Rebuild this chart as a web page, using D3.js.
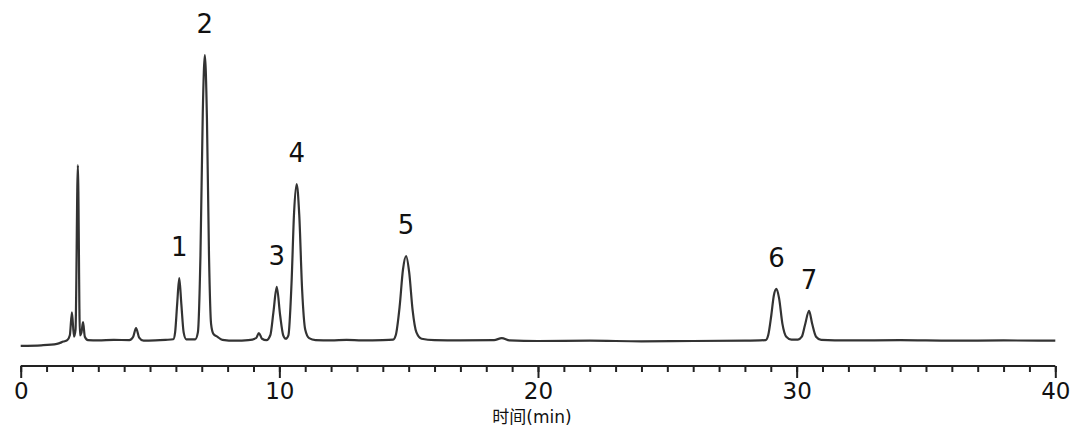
<!DOCTYPE html>
<html>
<head>
<meta charset="utf-8">
<script src="https://cdn.jsdelivr.net/npm/d3@7"></script>
<style>
  body { margin: 0; background: #fff; }
  svg text { font-family: "DejaVu Sans", sans-serif; fill: #111; }
</style>
</head>
<body>
<div id="chart"></div>
<script>
// chromatogram trace: [time (min), signal]
var trace = [
  [0, -1.7], [0.8, -1.5], [1.4, -1.0], [1.65, -0.2], [1.8, 0.3],
  [1.9, 2], [1.98, 10], [2.06, 1.5], [2.12, 4], [2.21, 61.5], [2.29, 2], [2.35, 3], [2.41, 6.6], [2.48, 1.5], [2.6, 0.3],
  [3.0, 0.2], [3.6, 0.4], [4.2, 0.3], [4.35, 1.5], [4.46, 4.5], [4.58, 1.2], [4.75, 0.1], [5.2, 0.2], [5.6, 0.4], [5.9, 0.6],
  [5.97, 3], [6.05, 13], [6.13, 22], [6.21, 13], [6.3, 3], [6.4, 0.6],
  [6.75, 0.6], [6.85, 3], [6.95, 30], [7.04, 80], [7.12, 100], [7.2, 78], [7.28, 30], [7.36, 6], [7.45, 2.5], [7.6, 1.5], [7.8, 0.4], [8.3, 0.1], [8.8, 0.3],
  [9.1, 1], [9.21, 2.8], [9.33, 0.8], [9.5, 0.3], [9.65, 2], [9.77, 10], [9.9, 18.9], [10.03, 9], [10.15, 2], [10.25, 0.8],
  [10.35, 2], [10.47, 20], [10.57, 45], [10.67, 54.9], [10.77, 44], [10.88, 18], [11.0, 4], [11.15, 1], [11.4, 0.3], [12, 0.2], [12.6, 0.4], [13.2, 0.2], [14.0, 0.3], [14.4, 0.5],
  [14.5, 2], [14.65, 12], [14.78, 25], [14.9, 29.7], [15.02, 24], [15.15, 11], [15.3, 3], [15.5, 0.8], [16, 0.3], [17, 0.2], [18.3, 0.3], [18.6, 1], [18.9, 0.2],
  [20, 0], [22, 0.1], [24, -0.1], [26, 0], [28, 0.1], [28.8, 0.3],
  [28.9, 2], [29.02, 9], [29.12, 16], [29.22, 18.2], [29.32, 15], [29.45, 6], [29.6, 1.5], [29.8, 0.5], [30.05, 0.5],
  [30.2, 1.5], [30.32, 5.5], [30.48, 10.5], [30.6, 6], [30.75, 1.5], [30.95, 0.4], [32, 0.2], [34, 0.3], [36, 0.1], [38, 0.2], [40, 0.1]
];

// numbered peaks
var peakNames = ["1", "2", "3", "4", "5", "6", "7"];
var peakTimes = [6.13, 7.12, 9.9, 10.67, 14.9, 29.22, 30.48];
var peakHeights = [22, 100, 18.9, 54.9, 29.7, 18.2, 10.5];

var majorTicks = [0, 10, 20, 30, 40];
var minorTicks = d3.range(0, 41, 1);
var xTitle = "时间(min)";

var width = 1080, height = 441;

var svg = d3.select("#chart").append("svg")
  .attr("width", width)
  .attr("height", height);

var x = d3.scaleLinear().domain([0, 40]).range([20.7, 1055.3]);
var y = d3.scaleLinear().domain([0, 100]).range([341, 55]);

var axisY = 366;

// minor ticks
svg.append("g")
  .attr("transform", "translate(0," + axisY + ")")
  .call(d3.axisBottom(x).tickValues(minorTicks).tickSize(6).tickFormat("").tickSizeOuter(0))
  .call(function(g) {
    g.select(".domain").remove();
    g.selectAll("line").attr("stroke", "#222").attr("stroke-width", 2);
  });

// major ticks + labels
svg.append("g")
  .attr("transform", "translate(0," + axisY + ")")
  .call(d3.axisBottom(x).tickValues(majorTicks).tickSize(12).tickPadding(5).tickSizeOuter(0))
  .call(function(g) {
    g.select(".domain").attr("stroke", "#222").attr("stroke-width", 2)
      .attr("d", "M" + x(0) + ",0H" + x(40));
    g.selectAll("line").attr("stroke", "#222").attr("stroke-width", 2);
    g.selectAll("text").style("font-size", "23px").attr("fill", "#111");
  });

svg.append("text")
  .attr("x", 532)
  .attr("y", 423)
  .attr("text-anchor", "middle")
  .style("font-size", "17px")
  .style("font-family", "'DejaVu Sans', 'Noto Sans CJK SC', sans-serif")
  .text(xTitle);

// trace
svg.append("path")
  .datum(trace)
  .attr("d", d3.line()
    .x(function(d) { return x(d[0]); })
    .y(function(d) { return y(d[1]); })
    .curve(d3.curveMonotoneX))
  .attr("fill", "none")
  .attr("stroke", "#333")
  .attr("stroke-width", 2.2)
  .attr("stroke-linejoin", "round");

// peak labels
svg.selectAll(".peak-label")
  .data(peakNames)
  .enter().append("text")
  .attr("class", "peak-label")
  .attr("x", function(d, i) { return x(peakTimes[i]); })
  .attr("y", function(d, i) { return y(peakHeights[i]) - 22; })
  .attr("text-anchor", "middle")
  .style("font-size", "26px")
  .text(function(d) { return d; });
</script>
</body>
</html>
